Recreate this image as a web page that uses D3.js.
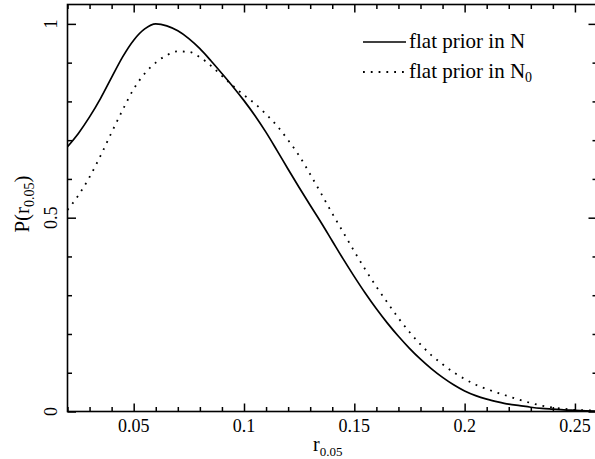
<!DOCTYPE html>
<html><head><meta charset="utf-8">
<script src="https://cdn.jsdelivr.net/npm/d3@7"></script>
<style>body{margin:0;background:#fff}svg{display:block}text{font-family:"Liberation Serif","Times New Roman",serif;fill:#000}</style>
</head><body>
<script>
const xVals = [0.020,0.025,0.030,0.035,0.040,0.045,0.050,0.055,0.060,0.065,0.070,0.075,0.080,0.085,0.090,0.095,0.100,0.105,0.110,0.115,0.120,0.125,0.130,0.135,0.140,0.145,0.150,0.155,0.160,0.165,0.170,0.175,0.180,0.185,0.190,0.195,0.200,0.205,0.210,0.215,0.220,0.225,0.230,0.235,0.240,0.245,0.250,0.255,0.260];
const flatN = [0.683,0.718,0.760,0.808,0.862,0.915,0.958,0.987,1.000,0.995,0.982,0.962,0.936,0.905,0.872,0.838,0.802,0.763,0.720,0.673,0.625,0.578,0.532,0.487,0.440,0.393,0.348,0.305,0.265,0.228,0.194,0.163,0.135,0.110,0.088,0.069,0.053,0.041,0.032,0.025,0.019,0.015,0.011,0.008,0.006,0.004,0.003,0.002,0.001];
const flatN0 = [0.520,0.558,0.605,0.660,0.720,0.778,0.832,0.872,0.900,0.919,0.929,0.928,0.914,0.892,0.866,0.840,0.816,0.794,0.767,0.737,0.700,0.660,0.612,0.562,0.511,0.462,0.413,0.366,0.322,0.281,0.241,0.205,0.173,0.145,0.122,0.101,0.084,0.069,0.058,0.048,0.039,0.030,0.022,0.015,0.010,0.007,0.004,0.003,0.002];
const xMajor = [0.05,0.1,0.15,0.2,0.25];
const xMajorLabels = ["0.05","0.1","0.15","0.2","0.25"];
const yMajor = [0,0.5,1];
const yMajorLabels = ["0","0.5","1"];
const legendLabels = ["flat prior in N","flat prior in N"];

const W=595,H=459;
const svg=d3.select("body").append("svg").attr("width",W).attr("height",H);
const x=d3.scaleLinear().domain([0.02,0.26]).range([67.5,597]);
const y=d3.scaleLinear().domain([0,1.05]).range([411.5,4.5]);

const xMinor=d3.range(0.02,0.2601,0.01).map(v=>+v.toFixed(2)).filter(v=>!xMajor.includes(v));
const yMinor=d3.range(0,1.0501,0.1).map(v=>+v.toFixed(1)).filter(v=>!yMajor.includes(v));

function ax(gen,tr){const g=svg.append("g").attr("transform",tr).call(gen);g.selectAll("text").remove();g.select(".domain").remove();g.selectAll("line").attr("stroke","#000").attr("stroke-width",1.5);return g;}
ax(d3.axisBottom(x).tickValues(xMajor).tickSize(-8),`translate(0,${y(0)})`);
ax(d3.axisBottom(x).tickValues(xMinor).tickSize(-4.5),`translate(0,${y(0)})`);
ax(d3.axisTop(x).tickValues(xMajor).tickSize(-8),`translate(0,${y(1.05)})`);
ax(d3.axisTop(x).tickValues(xMinor).tickSize(-4.5),`translate(0,${y(1.05)})`);
ax(d3.axisLeft(y).tickValues(yMajor).tickSize(-8.5),`translate(${x(0.02)},0)`);
ax(d3.axisLeft(y).tickValues(yMinor).tickSize(-4.5),`translate(${x(0.02)},0)`);
ax(d3.axisRight(y).tickValues(yMajor).tickSize(-8.5),`translate(${x(0.26)},0)`);
ax(d3.axisRight(y).tickValues(yMinor).tickSize(-4.5),`translate(${x(0.26)},0)`);

svg.append("rect").attr("x",x(0.02)).attr("y",y(1.05)).attr("width",x(0.26)-x(0.02)).attr("height",y(0)-y(1.05)).attr("fill","none").attr("stroke","#000").attr("stroke-width",1.6);

// tick labels
svg.selectAll(".xl").data(xMajor).enter().append("text").attr("x",d=>x(d)).attr("y",432).attr("text-anchor","middle").attr("font-size",18).text((d,i)=>xMajorLabels[i]);
svg.selectAll(".yl").data(yMajor).enter().append("text").attr("transform",d=>`translate(57,${y(d)}) rotate(-90)`).attr("text-anchor","middle").attr("font-size",18).text((d,i)=>yMajorLabels[i]);

// axis titles
const xt=svg.append("text").attr("x",313).attr("y",451).attr("font-size",20);
xt.append("tspan").text("r");
xt.append("tspan").attr("font-size",13).attr("dy",5).text("0.05");
const yt=svg.append("text").attr("transform",`translate(29,204) rotate(-90)`).attr("text-anchor","middle").attr("font-size",21);
yt.append("tspan").text("P(r");
yt.append("tspan").attr("font-size",14).attr("dy",5).text("0.05");
yt.append("tspan").attr("dy",-5).text(")");

const line=d3.line().x((d,i)=>x(xVals[i])).y(d=>y(d)).curve(d3.curveMonotoneX);
svg.append("path").attr("d",line(flatN)).attr("fill","none").attr("stroke","#000").attr("stroke-width",1.7);
svg.append("path").attr("d",line(flatN0)).attr("fill","none").attr("stroke","#000").attr("stroke-width",1.8).attr("stroke-dasharray","1.8,6");

// legend
const lg=svg.append("g");
lg.append("line").attr("x1",363).attr("x2",406).attr("y1",42).attr("y2",42).attr("stroke","#000").attr("stroke-width",1.7);
lg.append("line").attr("x1",363).attr("x2",406).attr("y1",72).attr("y2",72).attr("stroke","#000").attr("stroke-width",1.8).attr("stroke-dasharray","1.8,6");
lg.append("text").attr("x",409).attr("y",48).attr("font-size",21).text(legendLabels[0]);
const t2=lg.append("text").attr("x",409).attr("y",78).attr("font-size",21);
t2.append("tspan").text(legendLabels[1]);
t2.append("tspan").attr("font-size",14).attr("dy",4).text("0");
</script>
</body></html>
